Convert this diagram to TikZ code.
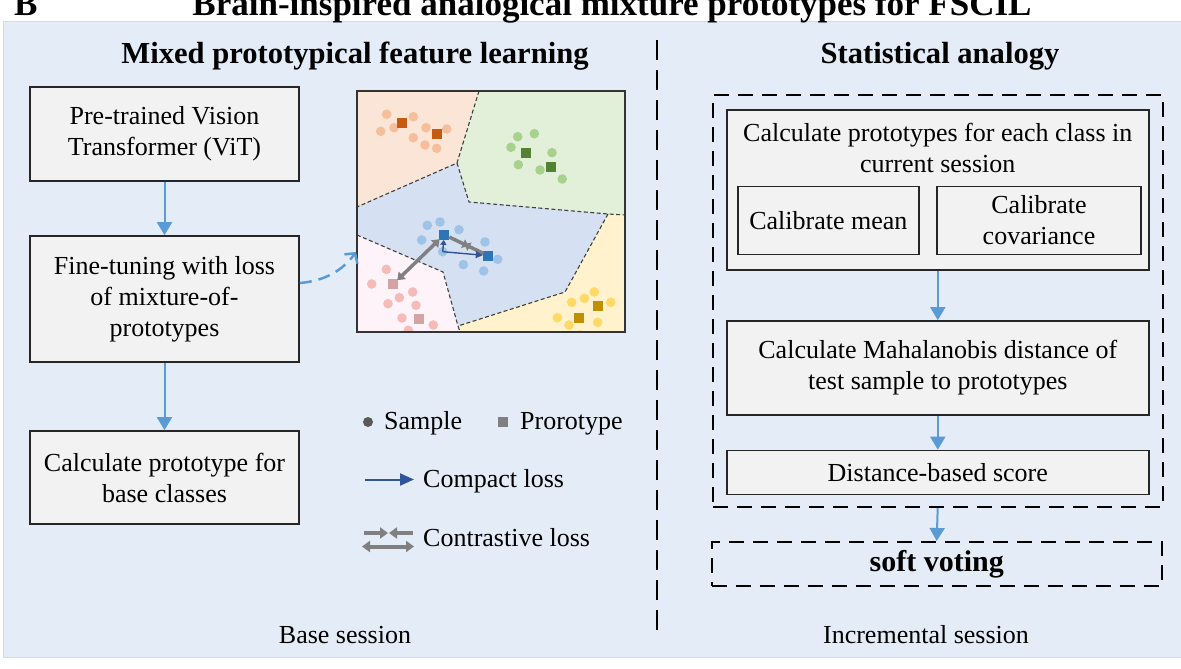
\documentclass[tikz,border=0pt]{standalone}
\usepackage{fontspec}
\setmainfont{Liberation Serif}
\usetikzlibrary{arrows.meta,calc}
\definecolor{panelbg}{HTML}{E4ECF7}
\definecolor{panelln}{HTML}{D2DAE6}
\definecolor{boxfill}{HTML}{F2F2F2}
\definecolor{boxline}{HTML}{262626}
\definecolor{flowblue}{HTML}{5B9BD5}
\definecolor{darkblue}{HTML}{2F5597}
\definecolor{rgOrange}{HTML}{FBE5D6}
\definecolor{rgGreen}{HTML}{E2F0D9}
\definecolor{rgBlue}{HTML}{D5E0F2}
\definecolor{rgYellow}{HTML}{FFF2CC}
\definecolor{rgPink}{HTML}{FEF3F8}
\definecolor{sOrange}{HTML}{F6BE9A}
\definecolor{sGreen}{HTML}{A9D18E}
\definecolor{sBlue}{HTML}{9DC3E6}
\definecolor{sPink}{HTML}{F4BBB8}
\definecolor{sYellow}{HTML}{FFD966}
\definecolor{pOrange}{HTML}{C55A11}
\definecolor{pGreen}{HTML}{548235}
\definecolor{pBlue}{HTML}{2E75B6}
\definecolor{pPink}{HTML}{D4A3A3}
\definecolor{pYellow}{HTML}{BF9000}
\definecolor{cgray}{HTML}{808080}
\tikzset{
  box/.style={draw=boxline, fill=boxfill, line width=1.6pt, align=center,
    font=\fontsize{26}{31}\selectfont, inner sep=0pt},
  flow/.style={-{Triangle[length=13pt,width=15pt]}, draw=flowblue, line width=2pt},
  dashbox/.style={draw=black, line width=2pt, dash pattern=on 15pt off 9pt, inner sep=0pt},
  bound/.style={draw=black!75, line width=1.1pt, dash pattern=on 4pt off 2.5pt},
  contra/.style={draw=cgray, line width=3.5pt},
  lbl/.style={font=\fontsize{26}{31}\selectfont, inner sep=0pt},
  head/.style={font=\fontsize{30.6}{34}\selectfont\bfseries, inner sep=0pt},
}
\begin{document}
\begin{tikzpicture}[x=1pt,y=-1pt]
\useasboundingbox (0,0) rectangle (1181,669);
\fill[white] (0,0) rectangle (1181,669);
% panel
\draw[fill=panelbg, draw=panelln, line width=1pt] (3,22) rectangle (1190,657);
% title (clipped at top, as in the reference)
\node[font=\fontsize{35}{40}\selectfont\bfseries, anchor=base west, inner sep=0pt] (lblB) at (14,16) {B};
\node[font=\fontsize{35}{40}\selectfont\bfseries, anchor=base, inner sep=0pt] (title) at (612,16) {Brain-inspired analogical mixture prototypes for FSCIL};
% headings
\node[head, anchor=base] (h1) at (355,64) {Mixed prototypical feature learning};
\node[head, anchor=base] (h2) at (940,64) {Statistical analogy};
% divider
\draw[line width=2pt, dash pattern=on 20pt off 10pt] (657,40) -- (657,635);
% left flow
\node[box, minimum width=269pt, minimum height=94pt] (b1) at (164.5,134) {Pre-trained Vision\\Transformer (ViT)};
\node[box, minimum width=269pt, minimum height=126pt] (b2) at (164.5,299) {Fine-tuning with loss\\of mixture-of-\\prototypes};
\node[box, minimum width=269pt, minimum height=93pt] (b3) at (164.5,477.5) {Calculate prototype for\\base classes};
\draw[flow] (b1.south) -- (b2.north);
\draw[flow] (b2.south) -- (b3.north);
% scatter plot
\begin{scope}
\clip (357,91) rectangle (625,332);
\fill[rgOrange] (357,91) -- (479,91) -- (457,163) -- (357,207) -- cycle;
\fill[rgGreen] (479,91) -- (625,91) -- (625,215) -- (608,214) -- (469,202) -- (457,163) -- cycle;
\fill[rgBlue] (357,207) -- (457,163) -- (469,202) -- (608,214) -- (565,292) -- (458,326) -- (443,272) -- (357,235) -- cycle;
\fill[rgYellow] (608,214) -- (625,215) -- (625,332) -- (460,332) -- (458,326) -- (565,292) -- cycle;
\fill[rgPink] (357,235) -- (443,272) -- (458,326) -- (460,332) -- (357,332) -- cycle;
\draw[bound] (479,91) -- (457,163) -- (357,207);
\draw[bound] (457,163) -- (469,202) -- (608,214) -- (625,215);
\draw[bound] (608,214) -- (565,292) -- (458,326) -- (460,332);
\draw[bound] (357,235) -- (443,272) -- (458,326);
\foreach \p in {(386.7,114.3),(413.3,116.7),(380.7,131.3),(394,127.7),(426,127.7),(446.7,129),(413.3,137.7),(425,145),(436.7,148.3)}
  \fill[sOrange] \p circle[radius=4.8pt];
\foreach \p in {(517.7,136.7),(534.3,133.7),(511,147.3),(552,152.7),(518.3,164.7),(540,170),(562.3,179)}
  \fill[sGreen] \p circle[radius=4.8pt];
\foreach \p in {(427.3,225.3),(440,222),(459,229.7),(421.7,240),(442.7,251.7),(485,242),(497.7,259.3),(463.3,264.7),(483.7,271)}
  \fill[sBlue] \p circle[radius=4.8pt];
\foreach \p in {(386.3,269.3),(371.7,284),(412.7,292),(399.3,297.7),(388,303.7),(416,305.3),(402,318),(433.3,325),(408.3,330.3)}
  \fill[sPink] \p circle[radius=4.8pt];
\foreach \p in {(594.3,292),(571.7,302.3),(584.3,298.3),(610.7,302.3),(557.3,317.7),(569,325),(597.7,322.3),(580,335)}
  \fill[sYellow] \p circle[radius=4.8pt];
\foreach \x/\y/\c in {401.7/122.7/pOrange,437.3/133.7/pOrange,526/152.7/pGreen,551/167/pGreen,444.3/234.7/pBlue,488.3/255.7/pBlue,393.3/284/pPink,419.3/319.3/pPink,597.7/306/pYellow,578.7/317.7/pYellow}
  \fill[\c] (\x-5,\y-5) rectangle ++(10,10);
\end{scope}
\coordinate (pb1) at (444.3,234.7);
\coordinate (pb2) at (488.3,255.7);
\coordinate (pp1) at (393.3,284);
\coordinate (sb) at (442.7,251.7);
\draw[contra, {Triangle[length=7pt,width=10pt]}-{Triangle[length=7pt,width=10pt]}, shorten <=5.5pt, shorten >=6.5pt] (pp1) -- (pb1);
\draw[contra, -{Triangle[length=6pt,width=9pt]}, shorten <=5.5pt] (pb1) -- ($(pb1)!0.55!(pb2)$);
\draw[contra, -{Triangle[length=6pt,width=9pt]}, shorten <=5.5pt] (pb2) -- ($(pb1)!0.45!(pb2)$);
\draw[darkblue, line width=1.4pt, -{Triangle[length=5pt,width=6pt]}, shorten >=5.2pt] (sb) -- (pb1);
\draw[darkblue, line width=1.4pt, -{Triangle[length=7pt,width=7pt]}, shorten >=5.5pt] (sb) -- (pb2);
\node[draw=black!80, line width=2pt, minimum width=268pt, minimum height=241pt, inner sep=0pt] (plot) at (491,211.5) {};
\draw[draw=flowblue, line width=2.5pt, dash pattern=on 12pt off 7pt, -{Straight Barb[length=7pt,width=16pt]}]
  ([yshift=16pt]b2.east) .. controls (325,281) and (343,270) .. ([yshift=-40.5pt]plot.west);
% legend
\fill[black!65] (368,422) circle[radius=5pt];
\node[lbl, anchor=base west] (lgS) at (384,429) {Sample};
\fill[black!50] (498,417) rectangle (508,427);
\node[lbl, anchor=base west] (lgP) at (520,429) {Prorotype};
\coordinate (ca1) at (365,479.5);
\coordinate (ca2) at (414,479.5);
\draw[darkblue, line width=2pt, -{Triangle[length=14pt,width=12pt]}] (ca1) -- (ca2);
\node[lbl, anchor=base west] (lgC) at (423,487) {Compact loss};
\coordinate (cl1) at (364,533);
\coordinate (cl2) at (388,533);
\coordinate (cl3) at (413,533);
\coordinate (cl4) at (389,533);
\coordinate (cd1) at (362,546.5);
\coordinate (cd2) at (414,546.5);
\draw[contra, line width=4pt, -{Triangle[length=8pt,width=11pt]}] (cl1) -- (cl2);
\draw[contra, line width=4pt, -{Triangle[length=8pt,width=11pt]}] (cl3) -- (cl4);
\draw[contra, line width=4pt, {Triangle[length=8pt,width=11pt]}-{Triangle[length=8pt,width=11pt]}] (cd1) -- (cd2);
\node[lbl, anchor=base west] (lgX) at (423,546) {Contrastive loss};
% bottom labels
\node[lbl, anchor=base] (bs) at (345,643) {Base session};
\node[lbl, anchor=base] (is) at (926,643) {Incremental session};
% right side
\node[dashbox, minimum width=450pt, minimum height=412pt] (outer) at (937.7,301) {};
\node[box, minimum width=422pt, minimum height=160pt] (bA) at (937.8,190) {};
\node[lbl, align=center] (tA) at (937.8,148) {Calculate prototypes for each class in\\current session};
\node[box, minimum width=181pt, minimum height=68pt] (bMean) at (828.3,220.5) {Calibrate mean};
\node[box, minimum width=204pt, minimum height=68pt] (bCov) at (1039,220.5) {Calibrate\\covariance};
\node[box, minimum width=422pt, minimum height=94pt] (bM) at (937.8,368) {Calculate Mahalanobis distance of\\test sample to prototypes};
\node[box, minimum width=422pt, minimum height=44pt] (bD) at (937.8,472.5) {Distance-based score};
\node[dashbox, minimum width=450pt, minimum height=44pt, font=\fontsize{30}{34}\selectfont\bfseries] (soft) at (936.7,564) {soft voting};
\draw[flow] (bA.south) -- (bM.north);
\draw[flow] (bM.south) -- (bD.north);
\draw[flow] (outer.south) -- (soft.north);
\end{tikzpicture}
\end{document}
